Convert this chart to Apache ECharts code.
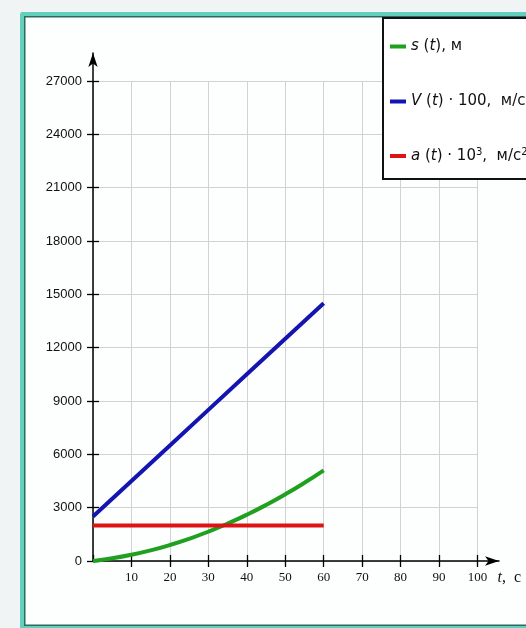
<!DOCTYPE html>
<html lang="ru">
<head>
    <meta charset="UTF-8">
    <title>s(t), V(t), a(t)</title>
    <script type="text/javascript" src="https://cdn.jsdelivr.net/npm/echarts@6/dist/echarts.min.js"></script>
    <style>
        body { margin: 0; background: #f1f4f4; }
        #frame {
            position: absolute; left: 20px; top: 12px; width: 540px; height: 610px;
            border: 4px solid #62d0bd; border-right: none; border-radius: 3px;
            box-shadow: inset 0 0 0 1.5px #2b6a60; background: #fdfefe;
        }
        #container { position: absolute; left: 0; top: 0; width: 526px; height: 628px; }
    </style>
</head>
<body>
<div id="frame"></div>
<div id="container"></div>
<script type="text/javascript">
    // путь s(t), м
    var tS = [0, 5, 10, 15, 20, 25, 30, 35, 40, 45, 50, 55, 60];
    var sVals = [0, 150, 350, 600, 900, 1250, 1650, 2100, 2600, 3150, 3750, 4400, 5100];
    // скорость V(t)*100
    var tV = [0, 10, 20, 30, 40, 50, 60];
    var vVals = [2500, 4500, 6500, 8500, 10500, 12500, 14500];
    // ускорение a(t)*10^3
    var tA = [0, 60];
    var aVals = [2000, 2000];

    var xTicks = [0, 100, 10];      // min, max, step
    var yTicks = [0, 27000, 3000];

    function pairs(xs, ys) {
        var out = [];
        for (var i = 0; i < xs.length; i++) out.push([xs[i], ys[i]]);
        return out;
    }

    var legendText = {
        's': '{i|s} ({i|t}), м',
        'V': '{i|V} ({i|t}) · 100,  м/с',
        'a': '{i|a} ({i|t}) · 10{sup|3},  м/с{sup|2}'
    };
    var legendStyle = {
        fontFamily: 'DejaVu Sans', fontSize: 15, color: '#111',
        rich: {
            i: { fontFamily: 'DejaVu Sans', fontSize: 15, fontStyle: 'italic', color: '#111' },
            sup: { fontFamily: 'DejaVu Sans', fontSize: 10, color: '#111', verticalAlign: 'top', padding: [0, 0, 8, 0] }
        }
    };
    function oneLegend(name, top) {
        return {
            data: [name], left: 390, top: top, padding: 0, z: 10,
            icon: 'rect', itemWidth: 16, itemHeight: 4, itemGap: 0,
            formatter: function (n) { return legendText[n]; },
            textStyle: legendStyle
        };
    }

    var dom = document.getElementById("container");
    var myChart = echarts.init(dom);

    var tickStyle = { color: '#000', width: 1.3 };
    var option = {
        animation: false,
        grid: [
            { left: 93, top: 81, width: 384.5, height: 480 },
            { left: 93, top: 53, width: 406, height: 508 }
        ],
        graphic: [{
            type: 'rect', z: 5,
            shape: { x: 383, y: 18, width: 200, height: 161 },
            style: { fill: '#fff', stroke: '#111', lineWidth: 2 }
        }],
        legend: [oneLegend('s', 39), oneLegend('V', 94), oneLegend('a', 147)],
        xAxis: [
            {
                gridIndex: 0, type: 'value', position: 'bottom',
                min: xTicks[0], max: xTicks[1], interval: xTicks[2],
                axisLine: { show: false, onZero: false },
                axisTick: { show: true, length: 6, lineStyle: tickStyle },
                axisLabel: { showMinLabel: false, margin: 10, fontFamily: 'Liberation Serif', fontSize: 13, color: '#111' },
                splitLine: { show: true, lineStyle: { color: '#d2d2d2', width: 1 } },
                name: '{i|t},  c', nameLocation: 'end', nameGap: 20,
                nameTextStyle: {
                    fontFamily: 'Liberation Serif', fontSize: 16, color: '#111',
                    verticalAlign: 'top', padding: [9, 0, 0, 0],
                    rich: { i: { fontFamily: 'Liberation Serif', fontStyle: 'italic', fontSize: 16, color: '#111' } }
                }
            },
            {
                gridIndex: 0, type: 'value', position: 'bottom',
                min: xTicks[0], max: xTicks[1], interval: xTicks[2],
                axisLine: { show: false, onZero: false },
                axisTick: { show: true, inside: true, length: 6, lineStyle: tickStyle },
                axisLabel: { show: false }, splitLine: { show: false }
            },
            {
                gridIndex: 1, type: 'value', position: 'bottom', min: 0, max: 1,
                axisLine: { show: true, onZero: false, symbol: ['none', 'arrow'], symbolSize: [7, 14], lineStyle: { color: '#000', width: 1.5 } },
                axisTick: { show: false }, axisLabel: { show: false }, splitLine: { show: false }
            }
        ],
        yAxis: [
            {
                gridIndex: 0, type: 'value', position: 'left',
                min: yTicks[0], max: yTicks[1], interval: yTicks[2],
                axisLine: { show: false, onZero: false },
                axisTick: { show: true, length: 6, lineStyle: tickStyle },
                axisLabel: {
                    margin: 11, fontFamily: 'Liberation Sans', fontSize: 13, color: '#111',
                    formatter: function (v) { return String(v); }
                },
                splitLine: { show: true, lineStyle: { color: '#d2d2d2', width: 1 } }
            },
            {
                gridIndex: 0, type: 'value', position: 'left',
                min: yTicks[0], max: yTicks[1], interval: yTicks[2],
                axisLine: { show: false, onZero: false },
                axisTick: { show: true, inside: true, length: 6, lineStyle: tickStyle },
                axisLabel: { show: false }, splitLine: { show: false }
            },
            {
                gridIndex: 1, type: 'value', position: 'left', min: 0, max: 1,
                axisLine: { show: true, onZero: false, symbol: ['none', 'arrow'], symbolSize: [7, 14], lineStyle: { color: '#000', width: 1.5 } },
                axisTick: { show: false }, axisLabel: { show: false }, splitLine: { show: false }
            }
        ],
        series: [
            {
                name: 's', type: 'line', xAxisIndex: 0, yAxisIndex: 0, smooth: true,
                showSymbol: false, color: '#1fa01f', lineStyle: { width: 4, color: '#1fa01f' },
                data: pairs(tS, sVals)
            },
            {
                name: 'V', type: 'line', xAxisIndex: 0, yAxisIndex: 0,
                showSymbol: false, color: '#1414b0', lineStyle: { width: 4, color: '#1414b0' },
                data: pairs(tV, vVals)
            },
            {
                name: 'a', type: 'line', xAxisIndex: 0, yAxisIndex: 0,
                showSymbol: false, color: '#de1414', lineStyle: { width: 4, color: '#de1414' },
                data: pairs(tA, aVals)
            }
        ]
    };

    if (option && typeof option === "object") {
        myChart.setOption(option, true);
    }
</script>
</body>
</html>
